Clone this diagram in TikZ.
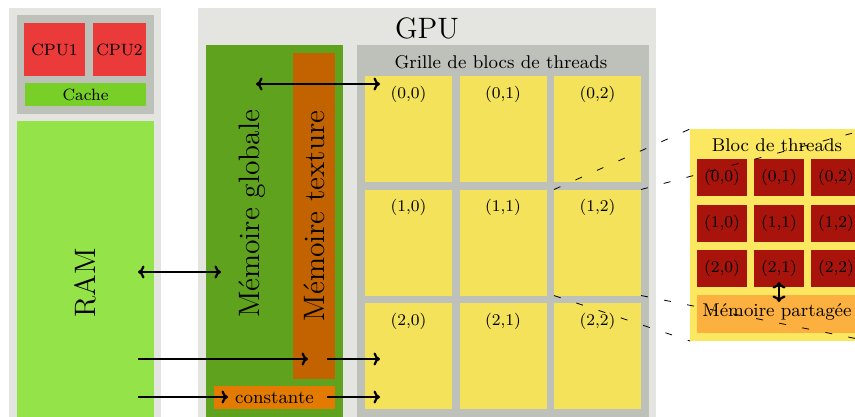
\documentclass[tikz,border=0pt]{standalone}
\usepackage{tikz}
\usetikzlibrary{arrows.meta}

\definecolor{panelgray}{HTML}{E4E5E1}
\definecolor{gridgray}{HTML}{BEC0BA}
\definecolor{cpured}{HTML}{EA3A3A}
\definecolor{cachegreen}{HTML}{78CF28}
\definecolor{ramgreen}{HTML}{94E349}
\definecolor{globalgreen}{HTML}{5FA21E}
\definecolor{texorange}{HTML}{C26300}
\definecolor{constorange}{HTML}{E37B00}
\definecolor{cellyellow}{HTML}{F4E35A}
\definecolor{blockyellow}{HTML}{FBE760}
\definecolor{threadred}{HTML}{A8140C}
\definecolor{sharedorange}{HTML}{FBB040}

\begin{document}
\begin{tikzpicture}[x=1pt, y=-1pt, >={To[length=6.5pt, width=13pt]},
    box/.style={inner sep=0pt, outer sep=0pt, anchor=north west},
    txt/.style={scale=2.05, inner sep=0pt},
    link/.style={line width=2.2pt},
    zoomline/.style={line width=0.8pt, dash pattern=on 7pt off 16.5pt}]
    \useasboundingbox (0,0) rectangle (855,416);
    \clip (0,0) rectangle (855,416);

    % host side
    \node[box, fill=panelgray, minimum width=152pt, minimum height=460pt] (host) at (9,8) {};
    \node[box, fill=gridgray, minimum width=137pt, minimum height=99pt] (cpus) at (17,15) {};
    \node[box, fill=cpured, minimum width=61pt, minimum height=53pt] (cpuA) at (24,23) {};
    \node[box, fill=cpured, minimum width=53pt, minimum height=53pt] (cpuB) at (93,23) {};
    \node[box, fill=cachegreen, minimum width=121pt, minimum height=23pt] (cache) at (25,83) {};
    \node[txt, font=\footnotesize] (cpuAlbl) at (cpuA) {CPU1};
    \node[txt, font=\footnotesize] (cpuBlbl) at (cpuB) {CPU2};
    \node[txt, font=\footnotesize] (cachelbl) at (cache) {Cache};
    \node[box, fill=ramgreen, minimum width=137pt, minimum height=324pt] (ram) at (17,121) {};
    \node[txt, font=\Large, rotate=90] (ramlbl) at (ram) {RAM};

    % GPU side
    \node[box, fill=panelgray, minimum width=458pt, minimum height=460pt] (gpu) at (198,8) {};
    \node[txt, font=\Large] (gpulbl) at (427,28) {GPU};
    \node[box, fill=globalgreen, minimum width=137pt, minimum height=420pt] (global) at (206,45) {};
    \node[box, fill=texorange, minimum width=42pt, minimum height=326pt] (texture) at (293,53) {};
    \node[box, fill=constorange, minimum width=121pt, minimum height=23pt] (constant) at (214,386) {};
    \node[txt, font=\Large, rotate=90] (globallbl) at (252,214) {Mémoire globale};
    \node[txt, font=\Large, rotate=90] (texturelbl) at (texture) {Mémoire texture};
    \node[txt, font=\small] (constantlbl) at (constant) {constante};

    % grille
    \node[box, fill=gridgray, minimum width=292pt, minimum height=420pt] (grid) at (357,45) {};
    \node[txt, font=\small] (gridlbl) at (501,62) {Grille de blocs de threads};
    \foreach \r in {0,1,2}{
        \foreach \c in {0,1,2}{
            \node[box, fill=cellyellow, minimum width=87pt, minimum height=106pt] (g\r\c) at ({365+94.5*\c},{76+113.5*\r}) {};
            \node[txt, font=\footnotesize] (gl\r\c) at ([yshift=-18pt]g\r\c.north) {(\r,\c)};
        }
    }

    % bloc
    \node[box, fill=blockyellow, minimum width=178pt, minimum height=212pt] (block) at (690,129) {};
    \node[txt, font=\small] (blocklbl) at (777,145) {Bloc de threads};
    \foreach \r in {0,1,2}{
        \foreach \c in {0,1,2}{
            \node[box, fill=threadred, minimum width=50pt, minimum height=37pt] (t\r\c) at ({697+57*\c},{159+45.5*\r}) {};
            \node[txt, font=\footnotesize] (tl\r\c) at (t\r\c) {(\r,\c)};
        }
    }
    \node[box, fill=sharedorange, minimum width=164pt, minimum height=38pt] (shared) at (697,295) {};
    \node[txt, font=\small] (sharedlbl) at (777,312) {Mémoire partagée};

    % transferts
    \coordinate (ramG) at (138,272);
    \coordinate (glbR) at (221,272);
    \coordinate (glbG) at (256,84);
    \coordinate (gridG) at (380,84);
    \coordinate (ramT) at (138,359);
    \coordinate (texIn) at (308,359);
    \coordinate (texOut) at (327,359);
    \coordinate (gridT) at (380,359);
    \coordinate (ramC) at (138,397);
    \coordinate (cstIn) at (228,397);
    \coordinate (cstOut) at (327,397);
    \coordinate (gridC) at (380,397);
    \draw[link, <->] (ramG) -- (glbR);
    \draw[link, <->] (glbG) -- (gridG);
    \draw[link, ->] (ramT) -- (texIn);
    \draw[link, ->] (texOut) -- (gridT);
    \draw[link, ->] (ramC) -- (cstIn);
    \draw[link, ->] (cstOut) -- (gridC);
    \draw[link, <->, shorten <=-5pt, shorten >=-7pt] (t21.south) -- (t21.south |- shared.north);

    % zoom sur le bloc (1,2)
    \draw[zoomline] (g12.north west) -- (block.north west);
    \draw[zoomline] (g12.north east) -- (block.north east);
    \draw[zoomline] (g12.south west) -- (block.south west);
    \draw[zoomline] (g12.south east) -- (block.south east);
\end{tikzpicture}
\end{document}
